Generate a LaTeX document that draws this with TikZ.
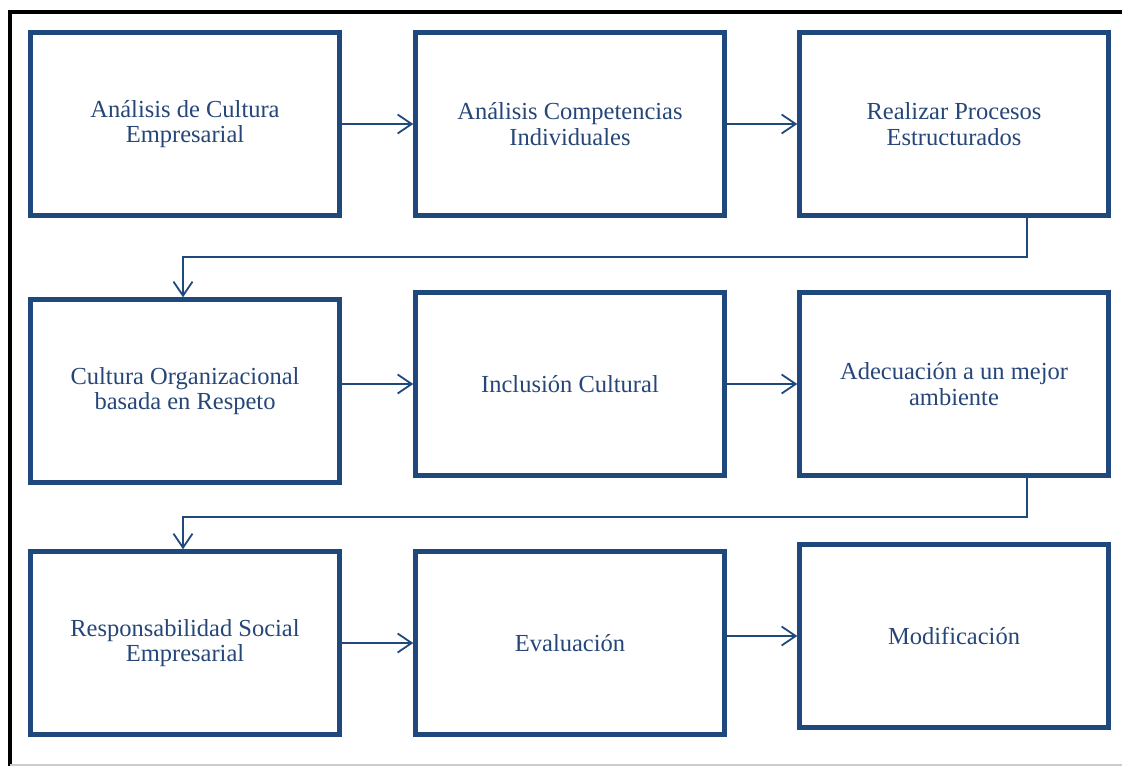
\documentclass[tikz,border=0pt]{standalone}
\usepackage{fontspec}
\setmainfont{Liberation Serif}
\newfontfamily\letracaja{Liberation Serif}
\usepackage{tikz}
\usetikzlibrary{arrows.meta}

\definecolor{azul}{RGB}{31,73,125}
\definecolor{azultexto}{RGB}{38,70,120}

\begin{document}
\begin{tikzpicture}[x=1pt,y=-1pt,
    caja/.style={draw=azul,line width=4.5pt,minimum width=309pt,minimum height=183pt,
        align=center,text=azultexto,font=\letracaja\fontsize{24.5}{25.5}\selectfont,inner sep=0pt},
    flecha/.style={draw=azul,line width=1.8pt,-{Straight Barb[length=14pt,width=19pt,line width=1.8pt]}}]
    \useasboundingbox (0,0) rectangle (1122,766);
    \draw[line width=4pt] (10,766) -- (10,12) -- (1122,12);
    \draw[black!20,line width=1.5pt] (10,765) -- (1122,765);

    \node[caja] (r1) at (185,124) {Análisis de Cultura\\Empresarial};
    \node[caja] (r2) at (570,124) {Análisis Competencias\\Individuales};
    \node[caja] (r3) at (954,124) {Realizar Procesos\\Estructurados};
    \node[caja] (r4) at (185,391) {Cultura Organizacional\\basada en Respeto};
    \node[caja] (r5) at (570,384) {Inclusión Cultural};
    \node[caja] (r6) at (954,384) {Adecuación a un mejor\\ambiente};
    \node[caja] (r7) at (185,643) {Responsabilidad Social\\Empresarial};
    \node[caja] (r8) at (570,643) {Evaluación};
    \node[caja] (r9) at (954,636) {Modificación};

    \foreach \a/\b in {r1/r2,r2/r3,r7/r8}
        \draw[flecha] (\a) -- (\b);
    \foreach \a/\b in {r4/r5,r5/r6,r8/r9}
        \draw[flecha] (\a.east |- \b.west) -- (\b.west);

    \draw[flecha] ([xshift=73pt]r3.south) -- ++(0,39) -| ([xshift=-2pt]r4.north);
    \draw[flecha] ([xshift=73pt]r6.south) -- ++(0,39) -| ([xshift=-2pt]r7.north);
\end{tikzpicture}
\end{document}
